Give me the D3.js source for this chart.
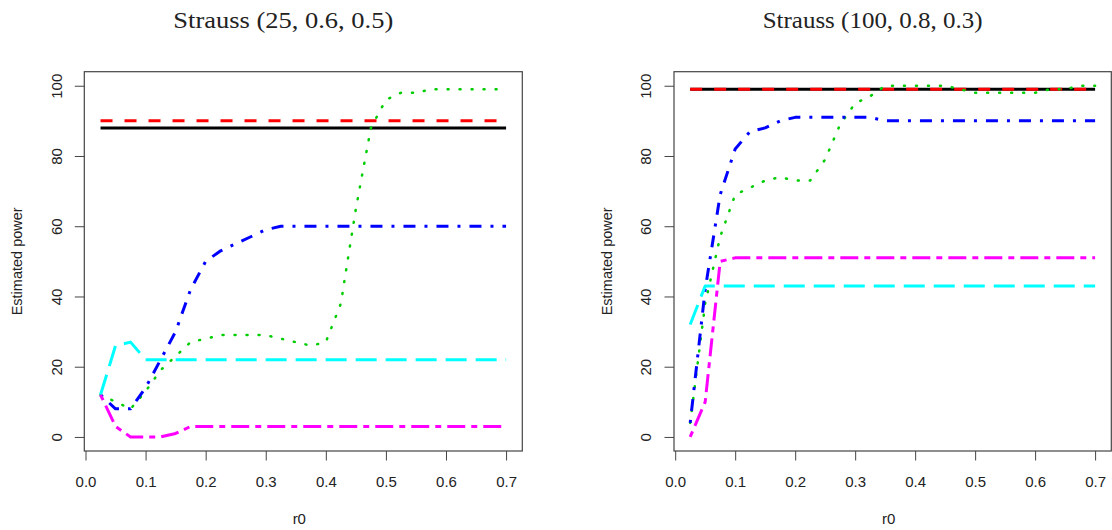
<!DOCTYPE html>
<html>
<head>
<meta charset="utf-8">
<script src="https://cdn.jsdelivr.net/npm/d3@7"></script>
<style>
    body { margin: 0; background: #fff; }
    svg text { font-family: "Liberation Sans", Arial, Helvetica, sans-serif; fill: #222; }
    .title { font-family: "Liberation Serif", "Times New Roman", serif; }
</style>
</head>
<body>
<div id="chart"></div>
<script>
// r0 values on the x axis
const r0 = [0.025, 0.05, 0.075, 0.1, 0.125, 0.15, 0.175, 0.2, 0.225, 0.25, 0.275, 0.3, 0.325, 0.35,
    0.375, 0.4, 0.425, 0.45, 0.475, 0.5, 0.525, 0.55, 0.575, 0.6, 0.625, 0.65, 0.675, 0.7];

const xTicks = [0, 0.1, 0.2, 0.3, 0.4, 0.5, 0.6, 0.7];
const yTicks = [0, 20, 40, 60, 80, 100];

const leftTitle = "Strauss (25, 0.6, 0.5)";
const rightTitle = "Strauss (100, 0.8, 0.3)";

// left panel, estimated power (%)
const leftBlack   = [88,88,88,88,88,88,88,88,88,88,88,88,88,88,88,88,88,88,88,88,88,88,88,88,88,88,88,88];
const leftRed     = [90,90,90,90,90,90,90,90,90,90,90,90,90,90,90,90,90,90,90,90,90,90,90,90,90,90,90,90];
const leftGreen   = [12,10,8,13,19,23,27,28,29,29,29,29,28,27,26,27,38,65,88,96,98,98,99,99,99,99,99,99];
const leftBlue    = [12,8,8,14,22,30,42,50,53,55,57,59,60,60,60,60,60,60,60,60,60,60,60,60,60,60,60,60];
const leftCyan    = [12,26,27,22,22,22,22,22,22,22,22,22,22,22,22,22,22,22,22,22,22,22,22,22,22,22,22,22];
const leftMagenta = [12,3,0,0,0,1,3,3,3,3,3,3,3,3,3,3,3,3,3,3,3,3,3,3,3,3,3,3];

// right panel
const rightBlack   = [99,99,99,99,99,99,99,99,99,99,99,99,99,99,99,99,99,99,99,99,99,99,99,99,99,99,99,99];
const rightRed     = [99,99,99,99,99,99,99,99,99,99,99,99,99,99,99,99,99,99,99,99,99,99,99,99,99,99,99,99];
const rightGreen   = [4,38,57,69,71,73,74,73,73,79,89,95,97,100,100,100,100,100,99,98,98,98,98,98,99,99,100,100];
const rightBlue    = [4,42,69,82,87,88,90,91,91,91,91,91,91,90,90,90,90,90,90,90,90,90,90,90,90,90,90,90];
const rightCyan    = [32,43,43,43,43,43,43,43,43,43,43,43,43,43,43,43,43,43,43,43,43,43,43,43,43,43,43,43];
const rightMagenta = [0,10,50,51,51,51,51,51,51,51,51,51,51,51,51,51,51,51,51,51,51,51,51,51,51,51,51,51];

// R style line types (lty 1..6 at lwd 3)
const lineStyles = [
    {color: "#000000", dash: null,           width: 3,   cap: "butt"},
    {color: "#ff0000", dash: "12,12",        width: 3,   cap: "butt"},
    {color: "#00cd00", dash: "1,11",         width: 2.5, cap: "round"},
    {color: "#0000ff", dash: "3,9,12,9",     width: 3,   cap: "butt"},
    {color: "#00ffff", dash: "21,9",         width: 3,   cap: "butt"},
    {color: "#ff00ff", dash: "6,6,18,6",     width: 3,   cap: "butt"}
];

class PowerPanelD3 {
    box;            // plot region in page pixels
    tickLength = 9.5;
    fontSize = 15;

    constructor(svg, box) {
        this.svg = svg;
        this.box = box;
        // R extends the data range by 4% on each side
        const ext = d3.extent(r0);
        const pad = (ext[1] - ext[0]) * 0.04;
        this.x = d3.scaleLinear().domain([ext[0] - pad, ext[1] + pad]).range([box.left, box.right]);
        this.y = d3.scaleLinear().domain([-4, 104]).range([box.bottom, box.top]);
        this.g = svg.append("g").attr("class", "panelG");
    }

    renderAxes(title) {
        const b = this.box;
        const xAxis = this.g.append("g")
            .attr("transform", "translate(0," + b.bottom + ")")
            .call(d3.axisBottom(this.x).tickValues(xTicks).tickFormat(d3.format(".1f"))
                .tickSize(this.tickLength).tickSizeOuter(0));
        xAxis.select(".domain").remove();
        xAxis.selectAll("line").attr("stroke", "#444");
        xAxis.selectAll("text")
            .attr("y", 35.5).attr("dy", null)
            .attr("font-size", this.fontSize).attr("font-family", null);

        const yAxis = this.g.append("g")
            .attr("transform", "translate(" + b.left + ",0)")
            .call(d3.axisLeft(this.y).tickValues(yTicks).tickSize(this.tickLength).tickSizeOuter(0));
        yAxis.select(".domain").remove();
        yAxis.selectAll("line").attr("stroke", "#444");
        // tick labels parallel to the axis, like las=0
        yAxis.selectAll("text")
            .attr("x", null).attr("dy", null)
            .attr("text-anchor", "middle")
            .attr("transform", "translate(-22.6,0) rotate(-90)")
            .attr("font-size", this.fontSize).attr("font-family", null);

        this.g.append("rect")
            .attr("x", b.left).attr("y", b.top)
            .attr("width", b.right - b.left).attr("height", b.bottom - b.top)
            .attr("fill", "none").attr("stroke", "#444").attr("stroke-width", 1.2);

        const cx = (b.left + b.right) / 2;
        this.g.append("text")
            .attr("class", "title")
            .attr("x", cx - 20).attr("y", 28)
            .attr("text-anchor", "middle")
            .attr("font-size", 24)
            .attr("textLength", 220).attr("lengthAdjust", "spacingAndGlyphs")
            .text(title);

        this.g.append("text")
            .attr("x", cx - 4).attr("y", 524)
            .attr("text-anchor", "middle")
            .attr("font-size", this.fontSize)
            .text("r0");

        this.g.append("text")
            .attr("transform", "translate(" + (b.left - 62) + "," + ((b.top + b.bottom) / 2) + ") rotate(-90)")
            .attr("text-anchor", "middle")
            .attr("font-size", 14.5)
            .text("Estimated power");
    }

    renderLines(seriesList) {
        const line = d3.line()
            .x((d, i) => this.x(r0[i]))
            .y(d => this.y(d));

        this.g.selectAll(".seriesPath")
            .data(seriesList)
            .join("path")
            .attr("class", "seriesPath")
            .attr("d", d => line(d))
            .attr("fill", "none")
            .attr("stroke", (d, i) => lineStyles[i].color)
            .attr("stroke-width", (d, i) => lineStyles[i].width)
            .attr("stroke-dasharray", (d, i) => lineStyles[i].dash)
            .attr("stroke-linecap", (d, i) => lineStyles[i].cap)
            .attr("stroke-linejoin", "round");
    }
}

const svg = d3.select("#chart").append("svg")
    .attr("width", 1112)
    .attr("height", 530);

const leftPanel = new PowerPanelD3(svg, {left: 84.3, right: 522.3, top: 71.7, bottom: 451});
leftPanel.renderAxes(leftTitle);
leftPanel.renderLines([leftBlack, leftRed, leftGreen, leftBlue, leftCyan, leftMagenta]);

const rightPanel = new PowerPanelD3(svg, {left: 674, right: 1111.3, top: 71.7, bottom: 451});
rightPanel.renderAxes(rightTitle);
rightPanel.renderLines([rightBlack, rightRed, rightGreen, rightBlue, rightCyan, rightMagenta]);
</script>
</body>
</html>
